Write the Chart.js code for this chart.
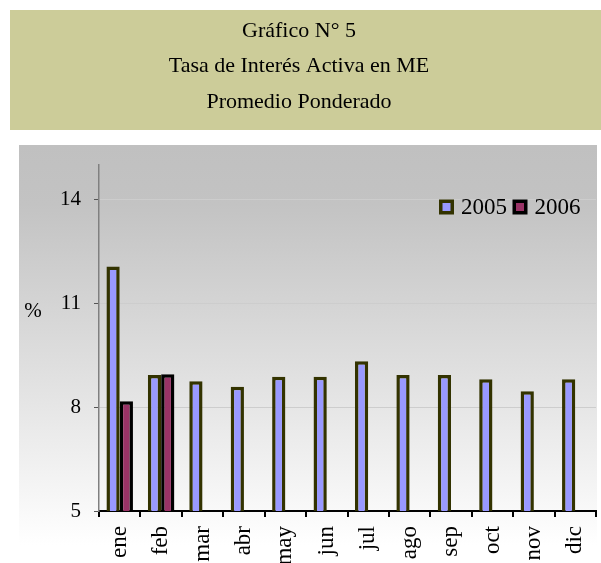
<!DOCTYPE html>
<html>
<head>
<meta charset="utf-8">
<script src="https://cdn.jsdelivr.net/npm/chart.js@4/dist/chart.umd.min.js"></script>
<style>
  html, body { margin: 0; padding: 0; background: #fff; }
  #wrap { width: 601px; height: 563px; position: relative; }
</style>
</head>
<body>
<div id="wrap"><canvas id="c" width="601" height="563"></canvas></div>
<script>
const months = ["ene", "feb", "mar", "abr", "may", "jun", "jul", "ago", "sep", "oct", "nov", "dic"];
const tasa2005 = [12.07, 8.93, 8.75, 8.59, 8.88, 8.88, 9.33, 8.93, 8.93, 8.81, 8.46, 8.81];
const tasa2006 = [8.17, 8.95, null, null, null, null, null, null, null, null, null, null];
const yTicks = [5, 8, 11, 14];
const titleLines = ["Gráfico N° 5", "Tasa de Interés Activa en ME", "Promedio Ponderado"];
const serif = "'Liberation Serif', 'Times New Roman', serif";

// background boxes, title, "%" and the legend
const decor = {
  id: "decor",
  beforeDraw(chart) {
    const ctx = chart.ctx;
    ctx.save();
    ctx.fillStyle = "#cccc99";
    ctx.fillRect(10, 10, 591, 120);
    const g = ctx.createLinearGradient(0, 145, 0, 545);
    g.addColorStop(0, "#c0c0c0");
    g.addColorStop(0.15, "#c3c3c3");
    g.addColorStop(0.6, "#e2e2e2");
    g.addColorStop(1, "#ffffff");
    ctx.fillStyle = g;
    ctx.fillRect(19, 145, 578, 400);
    ctx.fillStyle = "#000";
    ctx.font = "22px " + serif;
    ctx.textAlign = "center";
    ctx.textBaseline = "middle";
    titleLines.forEach((t, i) => ctx.fillText(t, 299, 31 + i * 35.5));
    ctx.font = "21px " + serif;
    ctx.fillText("%", 33, 311);
    ctx.restore();
  },
  afterDraw(chart) {
    const ctx = chart.ctx;
    ctx.save();
    ctx.font = "23px " + serif;
    ctx.textBaseline = "middle";
    ctx.textAlign = "left";
    let x = 439;
    const y = 207;
    chart.data.datasets.forEach(ds => {
      ctx.fillStyle = ds.borderColor;
      ctx.fillRect(x, y - 7.5, 15, 15);
      ctx.fillStyle = ds.backgroundColor;
      ctx.fillRect(x + 3.5, y - 4, 8, 8);
      ctx.fillStyle = "#000";
      ctx.fillText(ds.label, x + 22, y + 1);
      x += 73.5;
    });
    ctx.restore();
  }
};

new Chart(document.getElementById("c"), {
  type: "bar",
  data: {
    labels: months,
    datasets: [
      { label: "2005", data: tasa2005, backgroundColor: "#9999ff", borderColor: "#333300", borderWidth: 3.5 },
      { label: "2006", data: tasa2006, backgroundColor: "#993366", borderColor: "#000000", borderWidth: 3.5 }
    ]
  },
  options: {
    responsive: false,
    animation: false,
    layout: { padding: { left: 0, right: 5, top: 165, bottom: 0 } },
    datasets: { bar: { categoryPercentage: 0.64, barPercentage: 1 } },
    plugins: { legend: { display: false }, tooltip: { enabled: false } },
    scales: {
      x: {
        afterFit(s) { s.height = 52; s.paddingLeft = 0; s.paddingRight = 0; },
        grid: { drawOnChartArea: false, tickLength: 6, tickColor: "#000", lineWidth: 2 },
        border: { color: "#000", width: 2 },
        ticks: {
          color: "#000", font: { family: serif, size: 23 },
          minRotation: 90, maxRotation: 90, autoSkip: false, padding: 9
        }
      },
      y: {
        min: 5, max: 15,
        afterFit(s) { s.width = 99; s.paddingTop = 0; s.paddingBottom = 0; },
        afterBuildTicks(s) { s.ticks = yTicks.map(v => ({ value: v })); },
        grid: { color: "#cdcdcd", tickColor: "#555", tickLength: 5, lineWidth: 1 },
        border: { color: "#808080", width: 1.5 },
        ticks: { color: "#000", font: { family: serif, size: 21 }, padding: 13 }
      }
    }
  },
  plugins: [decor]
});
</script>
</body>
</html>
